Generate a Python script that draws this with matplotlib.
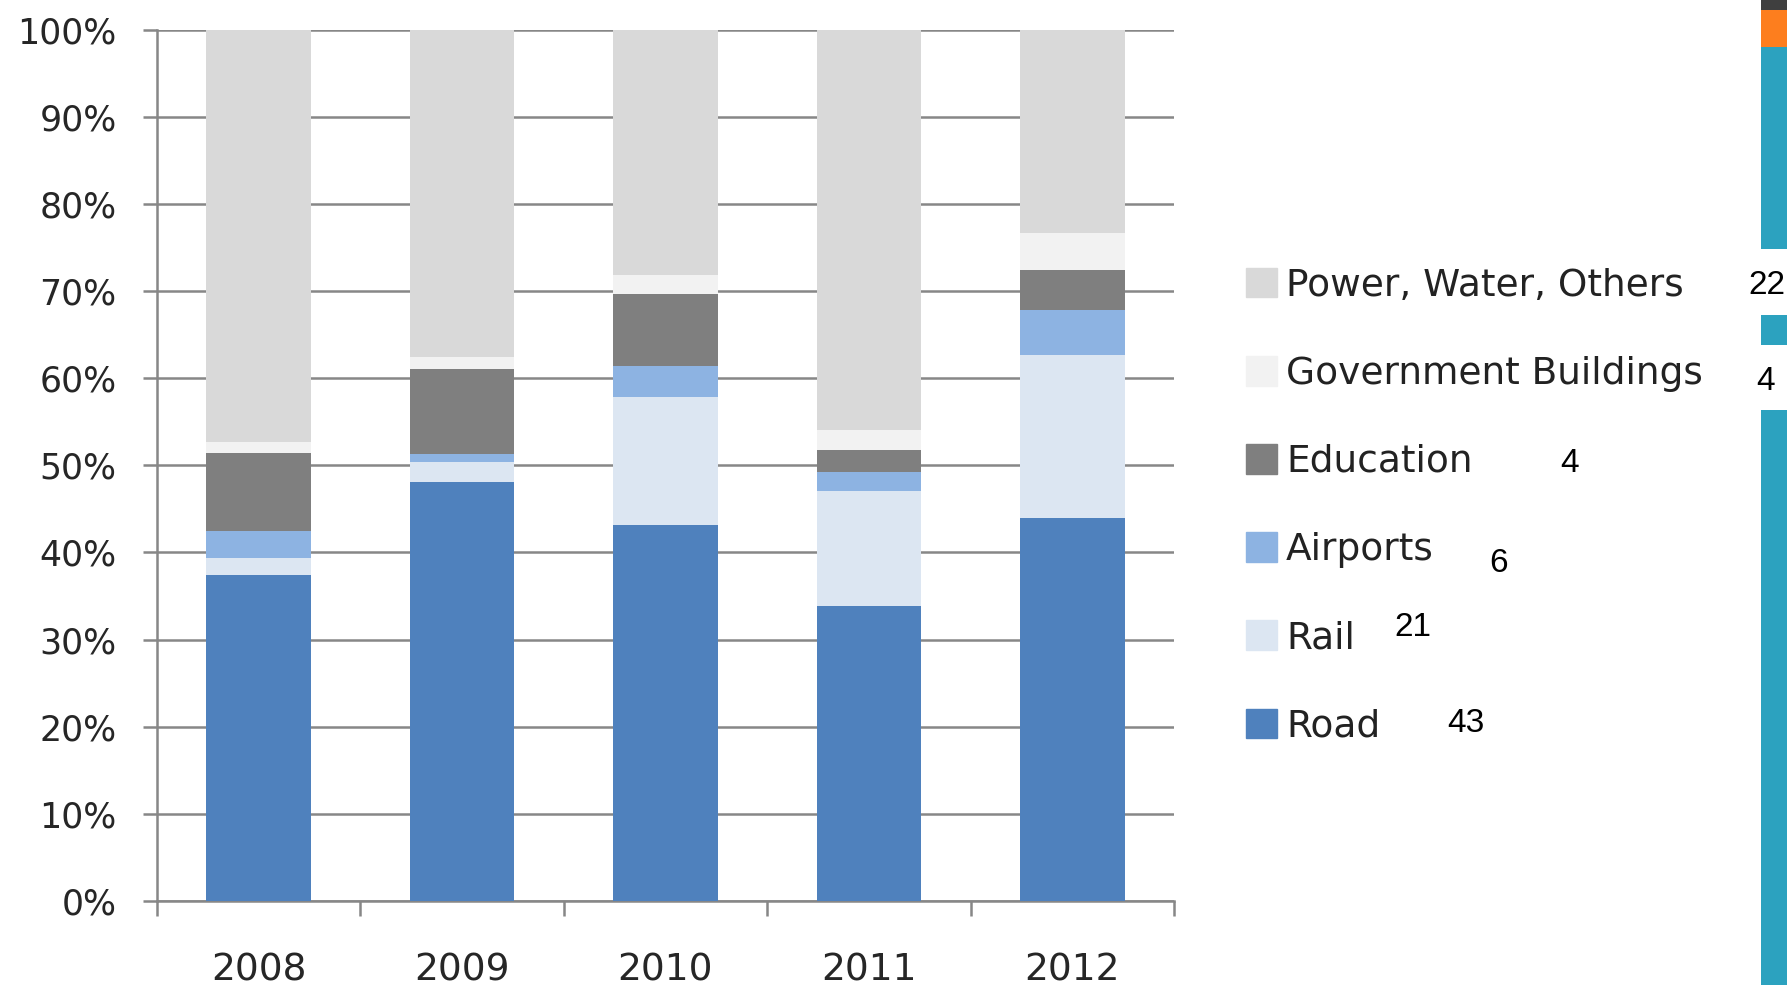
import numpy as np
import matplotlib
matplotlib.use('Agg')
import matplotlib.pyplot as plt
from matplotlib.patches import Patch, Rectangle

# share of spending per year, in percent (stacked bottom to top)
years = ['2008', '2009', '2010', '2011', '2012']
road = [37.4, 48.1, 43.2, 33.8, 44.0]
rail = [2.0, 2.3, 14.6, 13.2, 18.7]
airports = [3.1, 0.9, 3.6, 2.2, 5.1]
education = [8.9, 9.8, 8.3, 2.5, 4.6]
government = [1.3, 1.3, 2.1, 2.3, 4.3]
power = [47.3, 37.6, 28.2, 46.0, 23.3]

series_names = ['Road', 'Rail', 'Airports', 'Education',
                'Government Buildings', 'Power, Water, Others']
series_colors = ['#4F81BD', '#DCE6F2', '#8DB3E2', '#7F7F7F', '#F2F2F2', '#D9D9D9']

# stray numbers pasted on the slide next to the legend
side_numbers = ['22', '4', '4', '6', '21', '43']

W, H = 1787, 985
fig = plt.figure(figsize=(W / 100, H / 100), dpi=100)
ax = fig.add_axes([157 / W, (H - 901) / H, (1174 - 157) / W, (901 - 29.5) / H])

grid_col = '#878787'
x = np.arange(len(years))
bottom = np.zeros(len(years))
for vals, name, col in zip([road, rail, airports, education, government, power],
                           series_names, series_colors):
    ax.bar(x, vals, width=0.515, bottom=bottom, color=col, label=name, zorder=3)
    bottom += np.array(vals)

ax.set_xlim(-0.5, 4.5)
ax.set_ylim(0, 100)
ax.set_axisbelow(True)
ax.yaxis.grid(True, color=grid_col, lw=1.8)
for s in ['top', 'right']:
    ax.spines[s].set_visible(False)
for s in ['left', 'bottom']:
    ax.spines[s].set_color(grid_col)
    ax.spines[s].set_linewidth(1.8)

yt = np.arange(0, 101, 10)
ax.set_yticks(yt)
ax.set_yticklabels(['%d%%' % v for v in yt])
ax.tick_params(axis='y', length=10, width=1.8, color=grid_col, pad=19,
               labelsize=25, labelcolor='#262626')

ax.set_xticks(x)
ax.set_xticklabels(years)
ax.set_xticks(np.arange(-0.5, 5, 1), minor=True)
ax.tick_params(axis='x', which='major', length=0, pad=37, labelsize=27,
               labelcolor='#262626')
ax.tick_params(axis='x', which='minor', length=11, width=1.8, color=grid_col)

handles = [Patch(color=c) for c in series_colors][::-1]
fig.legend(handles, series_names[::-1], loc='center left',
           bbox_to_anchor=(1246 / W, 1 - 506 / H), frameon=False,
           fontsize=27, handlelength=0.83, handleheight=0.83,
           handletextpad=0.24, labelspacing=1.39, borderpad=0,
           borderaxespad=0, labelcolor='#222222')

num_pos = [(1767, 285), (1766, 382), (1570, 463), (1499, 564), (1413, 627), (1466, 724)]
for txt, (px, py) in zip(side_numbers, num_pos):
    fig.text(px / W, 1 - py / H, txt, ha='center', va='center',
             fontsize=24, family='Liberation Sans', color='black')

# slide decoration strip on the right edge
strip = [(0, 10, '#3F3F3F'), (10, 47, '#FD7E1E'), (47, 249, '#2CA2BF'),
         (315, 345, '#2CA2BF'), (410, 985, '#2CA2BF')]
for y0, y1, c in strip:
    fig.add_artist(Rectangle((1761 / W, 1 - y1 / H), 26 / W, (y1 - y0) / H,
                             transform=fig.transFigure, color=c, lw=0))

fig.savefig('out.png', dpi=100)
